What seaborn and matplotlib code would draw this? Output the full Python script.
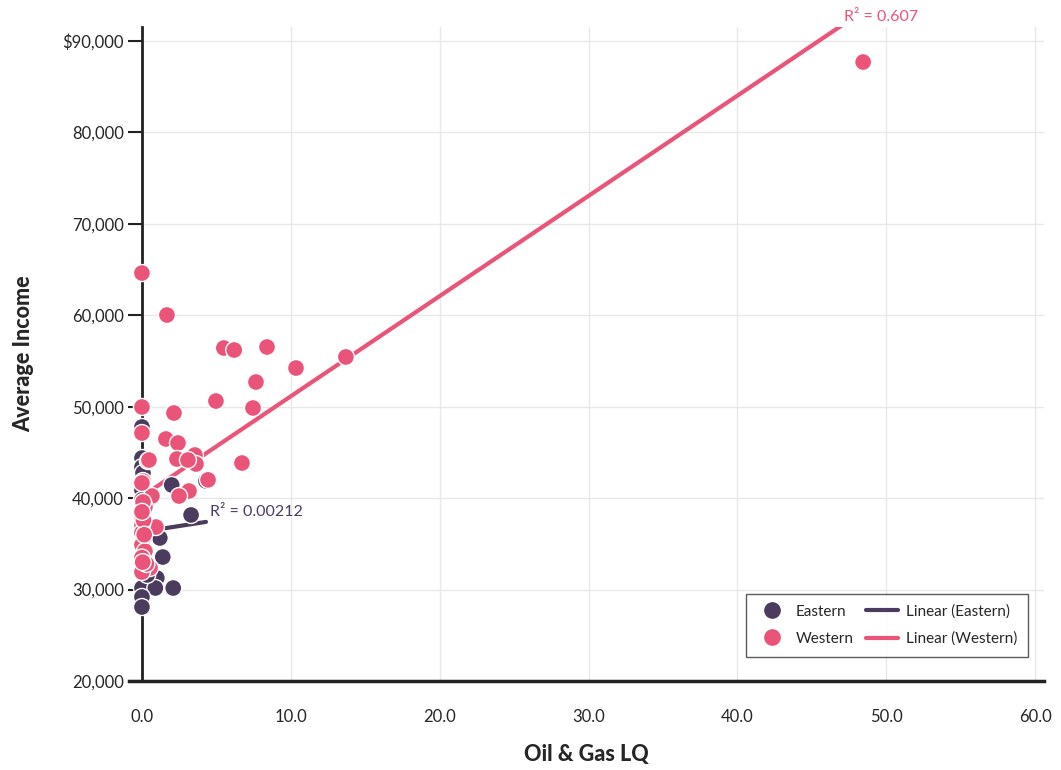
import pandas as pd
import numpy as np
import matplotlib
matplotlib.use('Agg')
import matplotlib.pyplot as plt
from matplotlib.lines import Line2D
import seaborn as sns

# Datos (Oil & Gas LQ vs ingreso promedio)
eastern_lq = [0.0, 0.0, 0.0, 0.07, 0.0, 2.0, 4.3, 3.3, 1.2, 1.4, 1.0, 0.0, 0.9, 2.1,
              0.0, 0.0, 0.2, 0.0, 0.35, 0.0]
eastern_income = [47780, 44390, 43400, 42750, 40890, 41440, 41880, 38160, 35640, 33560,
                  31270, 30170, 30170, 30170, 29190, 28090, 36500, 33800, 31600, 39800]

western_lq = [48.45, 0.0, 1.68, 5.5, 6.2, 8.4, 10.35, 13.7, 7.66, 4.97, 7.46, 0.0, 2.15,
              0.0, 1.61, 2.42, 3.56, 3.63, 2.35, 3.09, 6.72, 0.4, 4.44, 3.16, 2.49, 0.67,
              0.07, 0.2, 0.94, 0.0, 0.0, 0.07, 0.0, 0.0, 0.0, 0.07, 0.07, 0.2, 0.54, 0.0,
              0.47, 0.0, 0.1, 0.0, 0.2, 0.0, 0.3, 0.1, 0.0, 0.15, 0.05]
western_income = [87700, 64620, 60030, 56420, 56200, 56530, 54230, 55440, 52700, 50620,
                  49860, 49970, 49310, 47120, 46470, 46030, 44720, 43730, 44280, 44170,
                  43840, 44060, 42000, 40780, 40230, 40230, 41870, 39030, 36840, 37060,
                  41660, 39580, 37940, 35970, 35200, 34550, 33780, 33230, 32360, 31920,
                  44170, 36200, 35500, 34900, 34200, 33500, 32800, 37600, 38500, 36000,
                  33000]

r2_labels = {'Eastern': 'R\u00b2 = 0.00212', 'Western': 'R\u00b2 = 0.607'}
colores = {'Eastern': '#4b3b5e', 'Western': '#ea5479'}

df = pd.concat([
    pd.DataFrame({'lq': eastern_lq, 'income': eastern_income, 'region': 'Eastern'}),
    pd.DataFrame({'lq': western_lq, 'income': western_income, 'region': 'Western'}),
], ignore_index=True)

sns.set_style('white')
plt.rcParams['font.family'] = ['Lato', 'DejaVu Sans']

fig = plt.figure(figsize=(10.61, 7.70), dpi=100)
ax = fig.add_axes([129 / 1061, 89 / 770, (1044 - 129) / 1061, (681 - 27) / 770])

xlim = (-0.87, 60.6)
ylim = (20000, 91530)
ax.set_xlim(*xlim)
ax.set_ylim(*ylim)

# Lineas de tendencia
for reg in ['Eastern', 'Western']:
    sub = df[df['region'] == reg]
    sns.regplot(data=sub, x='lq', y='income', scatter=False, ci=None, truncate=True,
                color=colores[reg], line_kws={'lw': 3, 'zorder': 2}, ax=ax)

# Puntos
sns.scatterplot(data=df, x='lq', y='income', hue='region', palette=colores,
                s=150, edgecolor='white', linewidth=1, legend=False, zorder=3, ax=ax)
ax.set_xlim(*xlim)
ax.set_ylim(*ylim)

# Etiquetas R2 al final de cada linea
for reg in ['Eastern', 'Western']:
    sub = df[df['region'] == reg]
    m, b = np.polyfit(sub['lq'], sub['income'], 1)
    x_end = sub['lq'].max()
    y_end = m * x_end + b
    if y_end > ylim[1]:
        x_end = (ylim[1] - b) / m
        y_end = ylim[1]
    ax.annotate(r2_labels[reg], (x_end, y_end), xytext=(3, 2), textcoords='offset points',
                color=colores[reg], fontsize=11.5, ha='left', va='bottom',
                annotation_clip=False)

# Ejes y cuadricula
ax.set_xticks(np.arange(0, 61, 10))
ax.set_xticks(np.arange(5, 60, 10), minor=True)
ax.set_xticklabels([f'{v:.1f}' for v in np.arange(0, 61, 10)])
yt = np.arange(20000, 90001, 10000)
ax.set_yticks(yt)
ax.set_yticklabels([('$' if v == 90000 else '') + f'{v:,}' for v in yt])
ax.grid(True, which='major', color='#e8e8e8', lw=1)
ax.set_axisbelow(True)
for s in ['top', 'right']:
    ax.spines[s].set_visible(False)
ax.spines['left'].set_position(('data', 0))
ax.spines['left'].set_linewidth(2)
ax.spines['bottom'].set_linewidth(2.5)
ax.spines['left'].set_color('#222222')
ax.spines['bottom'].set_color('#222222')
ax.tick_params(axis='x', which='major', length=10, width=1.2, direction='out',
               labelsize=12, pad=10, color='#222222')
ax.tick_params(axis='x', which='minor', length=5, width=1.2, direction='out',
               color='#222222')
ax.tick_params(axis='y', length=10, width=1.5, direction='out', labelsize=12, pad=3,
               color='#222222', left=True)
ax.set_xlabel('Oil & Gas LQ', fontsize=15.5, fontweight='black', labelpad=14)
ax.set_ylabel('Average Income', fontsize=15.5, fontweight='black', labelpad=20)

handles = [
    Line2D([], [], marker='o', ls='', color=colores['Eastern'], markersize=11),
    Line2D([], [], marker='o', ls='', color=colores['Western'], markersize=11),
    Line2D([], [], color=colores['Eastern'], lw=3),
    Line2D([], [], color=colores['Western'], lw=3),
]
labels = ['Eastern', 'Western', 'Linear (Eastern)', 'Linear (Western)']
leg = ax.legend(handles, labels, ncol=2, loc='lower right', bbox_to_anchor=(0.9825, 0.037),
                borderaxespad=0, frameon=True, fancybox=False, fontsize=11,
                handlelength=2.1, columnspacing=0.8, labelspacing=0.85, borderpad=0.7,
                handletextpad=0.5, edgecolor='#333333')
leg.get_frame().set_linewidth(1)

fig.savefig('out.png', dpi=100)
